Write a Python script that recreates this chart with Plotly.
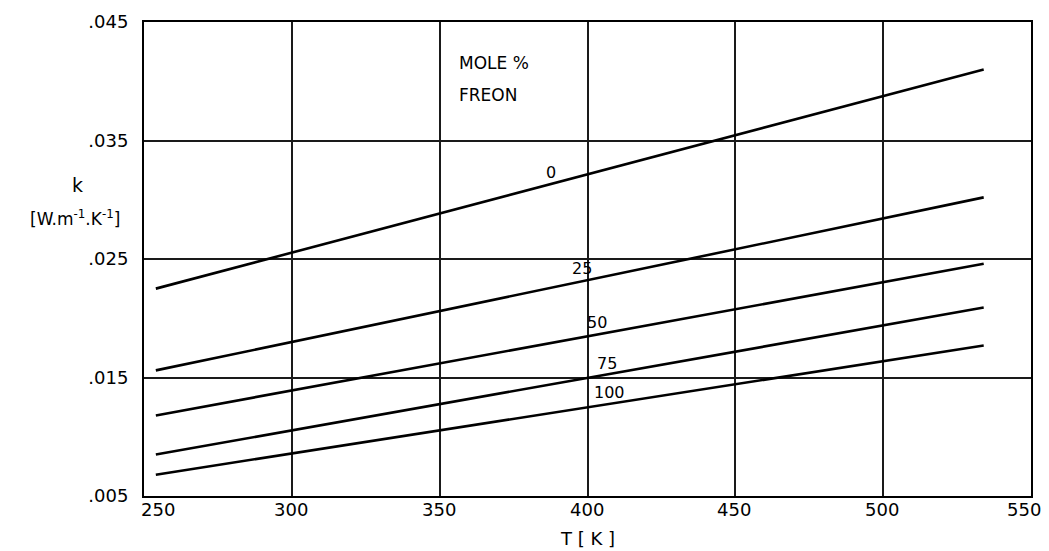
import plotly.graph_objects as go

# Temperature span of each curve [K]
T_range = [254, 534]

# Thermal conductivity k [W m^-1 K^-1] at the ends of each curve, by mole % Freon
mole_pct = ["0", "25", "50", "75", "100"]
k_0 = [0.0225, 0.0410]
k_25 = [0.0156, 0.0302]
k_50 = [0.0118, 0.0246]
k_75 = [0.0085, 0.0209]
k_100 = [0.0068, 0.0177]
series = [k_0, k_25, k_50, k_75, k_100]

# Curve label anchor points (T, k)
label_T = [387.6, 398.1, 403.2, 406.6, 407.6]
label_k = [0.0323, 0.0242, 0.0196, 0.0162, 0.0137]

# Axis ticks
x_ticks = [250, 300, 350, 400, 450, 500, 550]
x_tick_text = ["250", "300", "350", "400", "450", "500", "550"]
y_ticks = [0.005, 0.015, 0.025, 0.035, 0.045]
y_tick_text = [".005", ".015", ".025", ".035", ".045"]

FONT = "DejaVu Sans"
INK = "#000000"

fig = go.Figure()

for name, k in zip(mole_pct, series):
    fig.add_trace(go.Scatter(
        x=T_range, y=k, mode="lines", name=name,
        line=dict(color=INK, width=2.6),
        showlegend=False, hoverinfo="skip",
    ))

annotations = []

# Curve labels
for name, tx, ky in zip(mole_pct, label_T, label_k):
    annotations.append(dict(
        x=tx, y=ky, xref="x", yref="y", text=name, showarrow=False,
        font=dict(family=FONT, size=16, color=INK),
        xanchor="center", yanchor="middle",
    ))

# Heading inside the plot
annotations.append(dict(
    x=355.8, y=0.04154, xref="x", yref="y", text="MOLE %", showarrow=False,
    font=dict(family=FONT, size=17, color=INK), xanchor="left", yanchor="middle",
))
annotations.append(dict(
    x=355.8, y=0.03884, xref="x", yref="y", text="FREON", showarrow=False,
    font=dict(family=FONT, size=17, color=INK), xanchor="left", yanchor="middle",
))

# X tick labels (end labels pulled inward)
x_shift = {250: 14, 550: -7}
for tv, tt in zip(x_ticks, x_tick_text):
    annotations.append(dict(
        x=tv, y=-0.0295, xref="x", yref="paper", text=tt, showarrow=False,
        font=dict(family=FONT, size=18, color=INK),
        xanchor="center", yanchor="middle", xshift=x_shift.get(tv, -1),
    ))

# Axis titles
annotations.append(dict(
    x=400, y=-0.089, xref="x", yref="paper", text="T [ K ]", showarrow=False,
    font=dict(family=FONT, size=18, color=INK), xanchor="center", yanchor="middle",
))
annotations.append(dict(
    x=-0.0755, y=0.656, xref="paper", yref="paper", text="k", showarrow=False,
    font=dict(family=FONT, size=19, color=INK), xanchor="center", yanchor="middle",
))
annotations.append(dict(
    x=-0.078, y=0.5865, xref="paper", yref="paper",
    text="[W.m<sup>-1</sup>.K<sup>-1</sup>]", showarrow=False,
    font=dict(family=FONT, size=17, color=INK), xanchor="center", yanchor="middle",
))

fig.update_layout(
    width=1049, height=551,
    margin=dict(l=144, r=18, t=22, b=55),
    paper_bgcolor="white", plot_bgcolor="white",
    annotations=annotations,
    xaxis=dict(
        range=[250, 550], tickvals=x_ticks, showticklabels=False,
        showgrid=True, gridcolor="#1a1a1a", gridwidth=1.5,
        showline=True, linecolor=INK, linewidth=2, mirror=True,
        zeroline=False, ticks="",
    ),
    yaxis=dict(
        range=[0.005, 0.045], tickvals=y_ticks, ticktext=y_tick_text,
        tickfont=dict(family=FONT, size=18, color=INK),
        ticklabelstandoff=10,
        showgrid=True, gridcolor="#1a1a1a", gridwidth=1.5,
        showline=True, linecolor=INK, linewidth=2, mirror=True,
        zeroline=False, ticks="",
    ),
)

fig.write_html("out.html")
